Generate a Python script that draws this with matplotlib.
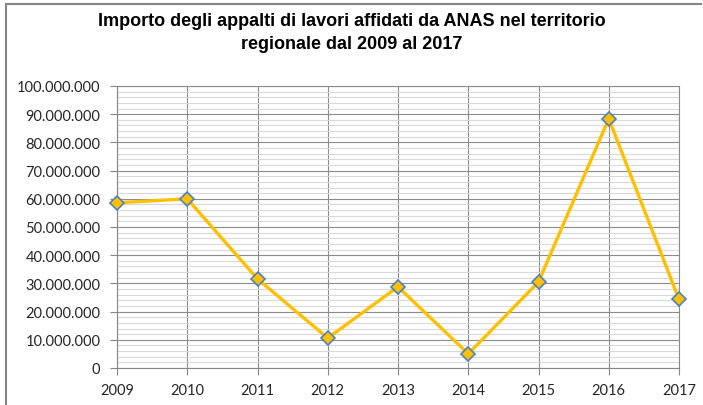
import matplotlib
matplotlib.use("Agg")
import matplotlib.pyplot as plt
from matplotlib.ticker import FuncFormatter, MultipleLocator
from matplotlib.lines import Line2D

years = [2009, 2010, 2011, 2012, 2013, 2014, 2015, 2016, 2017]
values = [58.6e6, 60.0e6, 31.6e6, 10.6e6, 28.8e6, 5.0e6, 30.5e6, 88.4e6, 24.3e6]
title = "Importo degli appalti di lavori affidati da ANAS nel territorio\nregionale dal 2009 al 2017"

fig = plt.figure(figsize=(7.03, 4.06), dpi=100)
W, H = 703, 406
ax = fig.add_axes([117 / W, 1 - 369 / H, (679 - 117) / W, (369 - 87) / H])

ax.set_xlim(years[0], years[-1])
ax.set_ylim(0, 100e6)
ax.yaxis.set_major_locator(MultipleLocator(10e6))
ax.yaxis.set_minor_locator(MultipleLocator(2e6))
ax.set_xticks(years)
ax.set_xticklabels([str(y) for y in years])

def fmt(v, pos):
    v = int(round(v))
    return f"{v:,}".replace(",", ".")
ax.yaxis.set_major_formatter(FuncFormatter(fmt))

ax.grid(which="minor", axis="y", color="#d9d9d9", linewidth=0.8)
ax.grid(which="major", axis="y", color="#8c8c8c", linewidth=0.8)
ax.grid(which="major", axis="x", color="#8c8c8c", linewidth=0.8)
ax.set_axisbelow(True)

for s in ["top", "right"]:
    ax.spines[s].set_color("#8c8c8c")
    ax.spines[s].set_linewidth(0.8)
for s in ["left", "bottom"]:
    ax.spines[s].set_color("#868686")
    ax.spines[s].set_linewidth(0.8)

ax.tick_params(axis="both", which="major", direction="out", length=5, color="#868686",
               labelsize=10.5, labelcolor="#262626")
ax.tick_params(axis="y", which="major", pad=7)
ax.tick_params(axis="x", which="major", pad=6)
ax.tick_params(axis="y", which="minor", length=0)
for lab in ax.get_xticklabels() + ax.get_yticklabels():
    lab.set_fontfamily("Lato")

ax.plot(years, values, color="#FFC000", linewidth=2.4, marker="D", markersize=7,
        markerfacecolor="#FFC000", markeredgecolor="#4F81BD", markeredgewidth=1.2,
        clip_on=False, zorder=5)

fig.text(0.5, 1 - 33 / H, title, ha="center", va="center",
         fontsize=13, fontweight="bold", family="Liberation Sans", linespacing=1.45)

# outer chart frame (left and top)
fig.add_artist(Line2D([6 / W, 6 / W], [0, 1 - 5 / H], transform=fig.transFigure,
                      color="#868686", linewidth=1.5))
fig.add_artist(Line2D([6 / W, 701 / W], [1 - 5 / H, 1 - 5 / H], transform=fig.transFigure,
                      color="#868686", linewidth=1.5))

fig.savefig("out.png", dpi=100)
